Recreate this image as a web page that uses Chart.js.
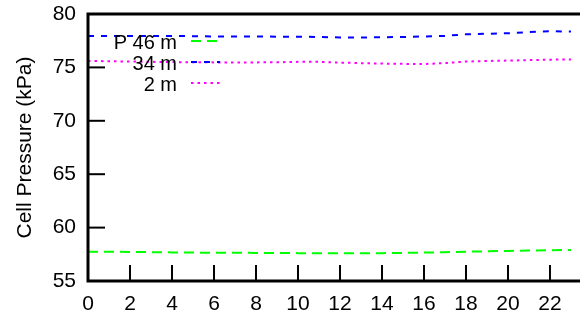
<!DOCTYPE html>
<html>
<head>
<meta charset="utf-8">
<script src="https://cdn.jsdelivr.net/npm/chart.js@4"></script>
<style>
  html, body { margin: 0; padding: 0; background: #fff; overflow: hidden; }
</style>
</head>
<body>
<canvas id="cellChart" width="580" height="317"></canvas>
<script>
// hours of day
const hours = [0,1,2,3,4,5,6,7,8,9,10,11,12,13,14,15,16,17,18,19,20,21,22,23];

// cell pressure (kPa) by depth
const p46m = [57.75,57.74,57.72,57.70,57.68,57.66,57.65,57.64,57.63,57.62,57.61,57.60,
              57.59,57.60,57.61,57.63,57.66,57.70,57.74,57.78,57.82,57.85,57.88,57.90];
const p34m = [77.95,77.95,77.95,77.93,77.95,77.92,77.90,77.90,77.90,77.88,77.87,77.85,
              77.80,77.80,77.82,77.85,77.90,77.95,78.10,78.15,78.20,78.30,78.40,78.35];
const p2m  = [75.60,75.58,75.55,75.52,75.50,75.48,75.47,75.47,75.47,75.48,75.52,75.52,
              75.45,75.40,75.36,75.33,75.32,75.40,75.55,75.60,75.64,75.68,75.72,75.75];

const seriesLabels = ["P 46 m", "34 m", "2 m"];
const yTicks = [55, 60, 65, 70, 75, 80];
const xTicks = [0, 2, 4, 6, 8, 10, 12, 14, 16, 18, 20, 22];

const FONT = "'Liberation Sans', Arial, Helvetica, sans-serif";

function pts(vals) {
  return hours.map((h, i) => ({ x: h, y: vals[i] }));
}

// frame, inward ticks and the in-plot legend
const framePlugin = {
  id: "frame",
  afterDatasetsDraw(chart) {
    const ctx = chart.ctx;
    const a = chart.chartArea;
    const xs = chart.scales.x, ys = chart.scales.y;
    ctx.save();
    ctx.strokeStyle = "#000";

    // ticks
    ctx.lineWidth = 2;
    xTicks.forEach(v => {
      if (v === 0) return;
      const px = xs.getPixelForValue(v);
      ctx.beginPath();
      ctx.moveTo(px, a.bottom);
      ctx.lineTo(px, a.bottom - 16);
      ctx.stroke();
    });
    yTicks.forEach(v => {
      if (v === 55 || v === 80) return;
      const py = ys.getPixelForValue(v);
      ctx.beginPath();
      ctx.moveTo(a.left, py);
      ctx.lineTo(a.left + 17, py);
      ctx.stroke();
    });

    // axis lines
    ctx.lineWidth = 3;
    ctx.beginPath();
    ctx.moveTo(a.right, a.top);
    ctx.lineTo(a.left, a.top);
    ctx.lineTo(a.left, a.bottom);
    ctx.lineTo(a.right, a.bottom);
    ctx.stroke();

    // legend
    ctx.font = "20px " + FONT;
    ctx.textAlign = "right";
    ctx.textBaseline = "middle";
    ctx.fillStyle = "#000";
    chart.data.datasets.forEach((ds, i) => {
      const y = 42 + i * 21;
      ctx.fillText(ds.label, 177, y + 1);
      ctx.strokeStyle = ds.borderColor;
      ctx.lineWidth = ds.borderWidth;
      ctx.setLineDash(ds.borderDash);
      ctx.beginPath();
      ctx.moveTo(191, y - 1);
      ctx.lineTo(220, y - 1);
      ctx.stroke();
      ctx.setLineDash([]);
    });
    ctx.restore();
  }
};

new Chart(document.getElementById("cellChart"), {
  type: "line",
  data: {
    datasets: [
      {
        label: seriesLabels[0],
        data: pts(p46m),
        borderColor: "#00ff00",
        borderWidth: 2,
        borderDash: [10, 6],
        pointRadius: 0,
        tension: 0
      },
      {
        label: seriesLabels[1],
        data: pts(p34m),
        borderColor: "#0000ff",
        borderWidth: 2,
        borderDash: [6, 7],
        pointRadius: 0,
        tension: 0
      },
      {
        label: seriesLabels[2],
        data: pts(p2m),
        borderColor: "#ff00ff",
        borderWidth: 2,
        borderDash: [2.5, 4],
        pointRadius: 0,
        tension: 0
      }
    ]
  },
  options: {
    responsive: false,
    animation: false,
    devicePixelRatio: 1,
    layout: { padding: { top: 14, right: 0, left: 0, bottom: 0 } },
    plugins: {
      legend: { display: false },
      tooltip: { enabled: false }
    },
    scales: {
      x: {
        type: "linear",
        min: 0,
        max: 23.43,
        afterFit: s => { s.height = 36; s.paddingLeft = 0; s.paddingRight = 0; },
        grid: { display: false, drawTicks: false },
        border: { display: false },
        ticks: {
          stepSize: 2,
          includeBounds: false,
          padding: 11,
          color: "#000",
          font: { family: FONT, size: 21 },
          maxRotation: 0,
          autoSkip: false
        }
      },
      y: {
        min: 55,
        max: 80,
        afterFit: s => { s.width = 88; s.paddingTop = 0; s.paddingBottom = 0; },
        grid: { display: false, drawTicks: false },
        border: { display: false },
        ticks: {
          stepSize: 5,
          padding: 12,
          color: "#000",
          font: { family: FONT, size: 21 }
        },
        title: {
          display: true,
          text: "Cell Pressure (kPa)",
          color: "#000",
          font: { family: FONT, size: 21 },
          padding: { top: 13, bottom: 0 }
        }
      }
    }
  },
  plugins: [framePlugin]
});
</script>
</body>
</html>
